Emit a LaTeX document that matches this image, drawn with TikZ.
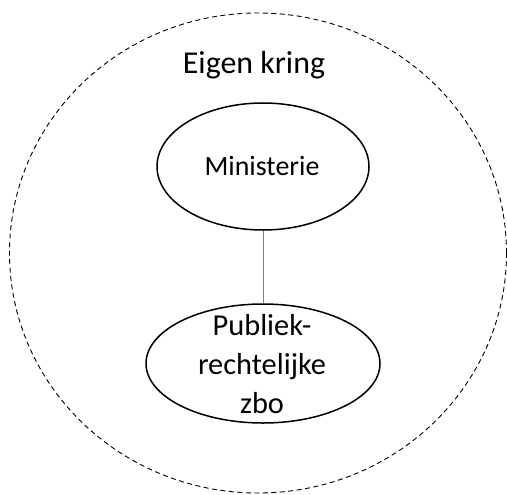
\documentclass[tikz,border=0pt]{standalone}
\usepackage{fontspec}
\setmainfont{Carlito}
\usetikzlibrary{shapes.geometric}

\begin{document}
\begin{tikzpicture}[x=1bp,y=-1bp,
		orgaan/.style={draw,ellipse,line width=1.5bp,inner sep=0pt},
		naam/.style={align=center,inner sep=0pt}]
		\useasboundingbox (0,0) rectangle (507,495);
		
		\node(kring)[draw,ellipse,dash pattern=on 5bp off 3.5bp,line width=0.9bp,
			minimum width=497bp,minimum height=480bp] at (258,253) {};
		\node(titel)[naam,anchor=base,font=\fontsize{32}{38}\selectfont] at (254,74) {Eigen kring};
		
		\node(min)[orgaan,minimum width=212bp,minimum height=127bp] at (263,166.5) {};
		\node(mintekst)[naam,anchor=base,font=\fontsize{28}{34}\selectfont] at (262,176) {Ministerie};
		
		\node(zbo)[orgaan,minimum width=234bp,minimum height=119bp] at (263,363.5) {};
		\node(zbotekst)[naam,anchor=base,font=\fontsize{30.5}{39}\selectfont] at (262,413) {Publiek-\\rechtelijke\\zbo};
		
		\draw[gray,line width=1bp]
		(min.south)--(zbo.north);
		\end{tikzpicture}
\end{document}
